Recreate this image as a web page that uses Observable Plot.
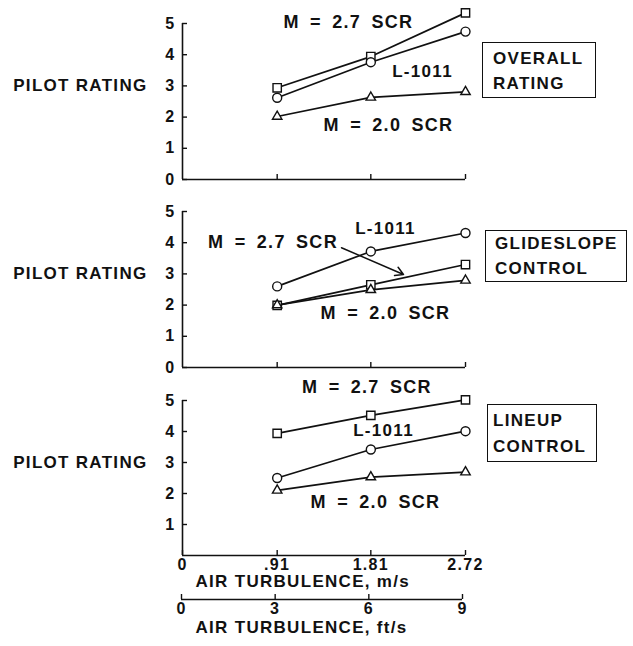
<!DOCTYPE html>
<html><head><meta charset="utf-8">
<script src="https://cdn.jsdelivr.net/npm/d3@7"></script>
<script src="https://cdn.jsdelivr.net/npm/@observablehq/plot@0.6"></script>
<style>
body{margin:0;background:#fff}
#chart{position:relative;width:633px;height:646px;overflow:hidden;font-family:"Liberation Sans",Arial,sans-serif;font-weight:bold;color:#111;background:#fff}
#chart svg{display:block}
#chart svg text{letter-spacing:1.3px}
.box{position:absolute;box-sizing:border-box;border:1.5px solid #111;font-size:17px;letter-spacing:1.3px;line-height:25px;white-space:nowrap}
</style></head><body><div id="chart"></div>
<script>
// ---- data ----
const turbulenceMs = [0.91, 1.81, 2.72];
const xTickValues = [0, 0.91, 1.81, 2.72];
const xTickLabels = ["0", ".91", "1.81", "2.72"];
const ftTickValues = [0, 3, 6, 9];
const yTicksFull = [0, 1, 2, 3, 4, 5];
const yTicksLineup = [1, 2, 3, 4, 5];
const seriesNames = ["M = 2.7 SCR", "L-1011", "M = 2.0 SCR"];
const seriesSymbols = ["square", "circle", "triangle"];

const overallScr27 = [2.94, 3.94, 5.34];
const overallL1011 = [2.62, 3.76, 4.74];
const overallScr20 = [2.02, 2.63, 2.81];

const glideScr27 = [1.99, 2.65, 3.30];
const glideL1011 = [2.60, 3.72, 4.31];
const glideScr20 = [2.00, 2.49, 2.79];

const lineupScr27 = [3.94, 4.52, 5.02];
const lineupL1011 = [2.50, 3.42, 4.01];
const lineupScr20 = [2.10, 2.53, 2.69];

const panelTitles = [["OVERALL", "RATING"], ["GLIDESLOPE", "CONTROL"], ["LINEUP", "CONTROL"]];
const yAxisTitle = "PILOT RATING";
const xTitleMs = "AIR TURBULENCE, m/s";
const xTitleFt = "AIR TURBULENCE, ft/s";

// annotation anchor positions (data units) for series labels
const overallLabelX = [1.595, 2.307, 1.98];
const overallLabelY = [5.03, 3.46, 1.73];
const glideLabelX = [0.87, 1.951, 1.951];
const glideLabelY = [4.0, 4.45, 1.73];
const lineupLabelX = [1.773, 1.932, 1.855];
const lineupLabelY = [5.43, 4.03, 1.71];
const glideArrow = [{x1: 1.528, y1: 3.84, x2: 2.124, y2: 2.98}];

// ---- build ----
const ink = "#111";
const font = '"Liberation Sans", Arial, sans-serif';
const symR = [4.7, 4.5, 3.5];
const tickFont = 16;

function rowsFor(sets) {
  return sets.flatMap((vals, s) => vals.map((v, i) => ({series: seriesNames[s], x: turbulenceMs[i], y: v})));
}

function panel({sets, labelX, labelY, yTicks, bottom, height, marginTop, marginBottom, extra = []}) {
  const rows = rowsFor(sets);
  const labels = seriesNames.map((t, i) => ({t, x: labelX[i], y: labelY[i]}));
  return Plot.plot({
    width: 633, height, marginLeft: 182, marginRight: 168, marginTop, marginBottom,
    x: {domain: [0, 2.72]},
    y: {domain: [0, 5]},
    style: {fontFamily: font, fontSize: tickFont + "px", fontWeight: "bold", color: ink, background: "white", overflow: "visible"},
    marks: [
      Plot.ruleX([0], {stroke: ink, strokeWidth: 1.6}),
      Plot.ruleY([0], {stroke: ink, strokeWidth: 1.6}),
      Plot.axisY({ticks: yTicks, tickSize: -5, tickPadding: 12, tickFormat: d => String(d), label: null, strokeWidth: 1.4, fontSize: tickFont}),
      Plot.axisX({ticks: bottom ? xTickValues : xTickValues.slice(1), tickSize: -5, tickPadding: 8,
        tickFormat: bottom ? (d => xTickLabels[xTickValues.indexOf(d)]) : (() => ""), label: null, strokeWidth: 1.4, fontSize: tickFont}),
      Plot.text([yAxisTitle], {text: d => d, y: () => 3, frameAnchor: "left", dx: -35, textAnchor: "end", fontSize: 17}),
      Plot.line(rows, {x: "x", y: "y", z: "series", stroke: ink, strokeWidth: 1.7}),
      ...seriesNames.map((name, s) => Plot.dot(rows.filter(d => d.series === name), {
        x: "x", y: "y", symbol: seriesSymbols[s], r: symR[s], fill: "white", stroke: ink, strokeWidth: 1.4})),
      Plot.text(labels, {x: "x", y: "y", text: "t", fontSize: 17, fill: ink}),
      ...extra,
      ...(bottom ? [Plot.text([xTitleMs], {text: d => d, frameAnchor: "bottom-left", lineAnchor: "middle", dx: 13, dy: 26, textAnchor: "start", fontSize: 17})] : [])
    ]
  });
}

const chart = document.getElementById("chart");

chart.append(panel({sets: [overallScr27, overallL1011, overallScr20], labelX: overallLabelX, labelY: overallLabelY,
  yTicks: yTicksFull, bottom: false, height: 188, marginTop: 23, marginBottom: 9}));

chart.append(panel({sets: [glideScr27, glideL1011, glideScr20], labelX: glideLabelX, labelY: glideLabelY,
  yTicks: yTicksFull, bottom: false, height: 188, marginTop: 23, marginBottom: 9,
  extra: [Plot.arrow(glideArrow, {x1: "x1", y1: "y1", x2: "x2", y2: "y2", stroke: ink, strokeWidth: 1.5, headLength: 9})]}));

chart.append(panel({sets: [lineupScr27, lineupL1011, lineupScr20], labelX: lineupLabelX, labelY: lineupLabelY,
  yTicks: yTicksLineup, bottom: true, height: 222, marginTop: 24, marginBottom: 43}));

// second (ft/s) axis
chart.append(Plot.plot({
  width: 633, height: 48, marginLeft: 181, marginRight: 171, marginTop: 0, marginBottom: 47,
  x: {domain: [0, 9]},
  y: {domain: [0, 1], axis: null},
  style: {fontFamily: font, fontSize: tickFont + "px", fontWeight: "bold", color: ink, background: "white", overflow: "visible"},
  marks: [
    Plot.ruleY([0], {stroke: ink, strokeWidth: 1.6}),
    Plot.axisX({ticks: ftTickValues, tickSize: -5, tickPadding: 8, tickFormat: d => String(d), label: null, strokeWidth: 1.4, fontSize: tickFont}),
    Plot.text([xTitleFt], {text: d => d, frameAnchor: "bottom-left", lineAnchor: "middle", dx: 14, dy: 28, textAnchor: "start", fontSize: 17})
  ]
}));

// boxed panel titles
const boxes = [
  {left: 482, top: 42, width: 114, height: 56, pad: "3px 0 0 10px", lh: 25},
  {left: 485, top: 230, width: 142, height: 52, pad: "0 0 0 9px", lh: 25},
  {left: 487, top: 404, width: 110, height: 58, pad: "3px 0 0 5px", lh: 26}
];
boxes.forEach((b, i) => {
  const div = document.createElement("div");
  div.className = "box";
  Object.assign(div.style, {left: b.left + "px", top: b.top + "px", width: b.width + "px", height: b.height + "px", padding: b.pad, lineHeight: b.lh + "px"});
  panelTitles[i].forEach(line => { const s = document.createElement("div"); s.textContent = line; div.append(s); });
  chart.append(div);
});

d3.selectAll("#chart svg text").filter(function() { return this.textContent.startsWith("M ="); })
  .style("word-spacing", "4px").style("font-size", "18px");
</script>
</body></html>
